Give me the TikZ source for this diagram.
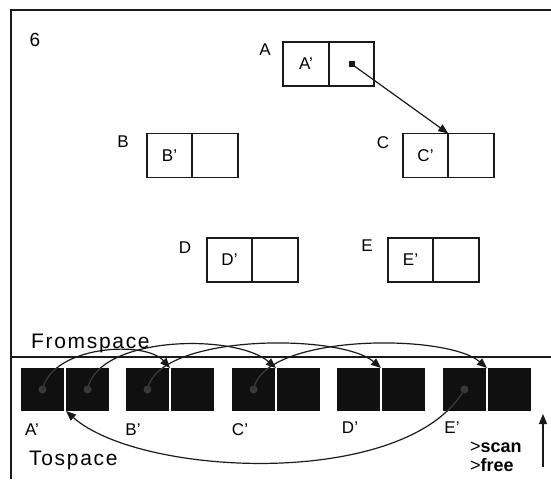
\documentclass[tikz,border=0pt]{standalone}
\usepackage{fontspec}
\setmainfont{Liberation Sans}
\newfontfamily\spacedfont[LetterSpace=8]{Liberation Sans}
\usetikzlibrary{arrows.meta,calc}

\definecolor{ink}{HTML}{1A1A1A}
\definecolor{blockfill}{HTML}{101010}
\definecolor{dotgray}{HTML}{3A3A3A}

% straight prime mark for the copied cells
\newcommand{\cp}{\char"0027\relax}

\tikzset{
  pen/.style={draw=ink, line width=1.6pt},
  cell/.style={pen, minimum width=45.5pt, minimum height=44pt, inner sep=0pt, outer sep=0pt, font=\fontsize{17}{17}\selectfont},
  lbl/.style={font=\fontsize{17}{17}\selectfont, inner sep=0pt},
  tblock/.style={fill=blockfill, minimum width=43pt, minimum height=43pt, inner sep=0pt, outer sep=0pt},
  tdot/.style={circle, fill=dotgray, minimum size=8pt, inner sep=0pt},
  ptr/.style={draw=ink, line width=1.2pt, -{Triangle[length=10pt,width=8pt]}},
  caption/.style={font=\spacedfont\fontsize{21}{21}\selectfont, inner sep=0pt, anchor=west},
}

\begin{document}
\begin{tikzpicture}[x=1pt,y=-1pt]
\useasboundingbox (0,0) rectangle (551,479);

% frame and the split between the two semispaces
\coordinate (ftr) at (551,10);
\coordinate (ftl) at (11,10);
\coordinate (fbl) at (11,479);
\coordinate (dl) at (11,357);
\coordinate (dr) at (551,357);
\draw[draw=ink, line width=2pt] (ftr) -- (ftl) -- (fbl);
\draw[draw=ink, line width=1.5pt] (dl) -- (dr);

\node[lbl, font=\fontsize{19}{19}\selectfont] (six) at (35,40) {6};

% fromspace cells
\node[cell] (Aa) at (306,64) {A\cp};
\node[cell] (Ab) at (351.5,64) {};
\node[cell] (Ba) at (169.5,155.5) {B\cp};
\node[cell] (Bb) at (215,155.5) {};
\node[cell] (Ca) at (425.5,155.5) {C\cp};
\node[cell] (Cb) at (471,155.5) {};
\node[cell] (Da) at (229.5,260) {D\cp};
\node[cell] (Db) at (275,260) {};
\node[cell] (Ea) at (410.5,260) {E\cp};
\node[cell] (Eb) at (456,260) {};

\node[lbl] (lA) at (265,50) {A};
\node[lbl] (lB) at (123,142) {B};
\node[lbl] (lC) at (383,143) {C};
\node[lbl] (lD) at (185,248) {D};
\node[lbl] (lE) at (367,246) {E};

\node[fill=ink, minimum size=6pt, inner sep=0pt] (pA) at (Ab.center) {};
\draw[ptr] (pA.center) -- (Ca.north east);

% tospace blocks
\foreach \n/\s in {A/21,B/126,C/232,D/337,E/443}{
  \node[tblock] (\n1) at (\s+21.5,389.5) {};
  \node[tblock] (\n2) at (\s+66.5,389.5) {};
}
\foreach \n in {B,C,D,E}{
  \coordinate (j\n) at ($(\n1.north east)!0.5!(\n2.north west)$);
}

\node[lbl] (tA) at (32,430) {A\cp};
\node[lbl] (tB) at (133,430) {B\cp};
\node[lbl] (tC) at (240,430) {C\cp};
\node[lbl] (tD) at (350,428) {D\cp};
\node[lbl] (tE) at (452,428) {E\cp};

\node[tdot] (dA1) at (A1.center) {};
\node[tdot] (dA2) at (A2.center) {};
\node[tdot] (dB1) at (B1.center) {};
\node[tdot] (dC1) at (C1.center) {};
\node[tdot] (dE1) at (E1.center) {};

\def\arcAB{(dA1.center) .. controls +(10,-44) and +(-25,-28) .. (jB)}
\def\arcAC{(dA2.center) .. controls +(10,-54) and +(-41,-35) .. (jC)}
\def\arcBD{(dB1.center) .. controls +(10,-56) and +(-41,-35) .. (jD)}
\def\arcCE{(dC1.center) .. controls +(10,-56) and +(-41,-35) .. (jE)}
\def\arcEA{(dE1.center) .. controls +(-58,100) and +(74,66) .. (A2.south west)}

\draw[ptr] \arcAB;
\draw[ptr] \arcAC;
\draw[ptr] \arcBD;
\draw[ptr] \arcCE;
\draw[ptr] \arcEA;

% the part of each pointer that lies on a black block shows as grey
\begin{scope}
  \clip (A1.north west) rectangle (A2.south east)
        (B1.north west) rectangle (B2.south east)
        (C1.north west) rectangle (C2.south east)
        (E1.north west) rectangle (E2.south east);
  \draw[draw=dotgray, line width=1.2pt] \arcAB \arcAC \arcBD \arcCE \arcEA;
\end{scope}

\node[caption] (from) at (31,343) {Fromspace};
\node[caption] (to) at (29,460) {Tospace};

\node[inner sep=0pt, anchor=west, font=\fontsize{18}{18}\selectfont] (scan) at (470,447) {>\textbf{scan}};
\node[inner sep=0pt, anchor=west, font=\fontsize{18}{18}\selectfont] (free) at (470,465) {>\textbf{free}};

\coordinate (fbot) at (543,467);
\coordinate (ftop) at (543,414);
\draw[ptr] (fbot) -- (ftop);
\end{tikzpicture}
\end{document}
